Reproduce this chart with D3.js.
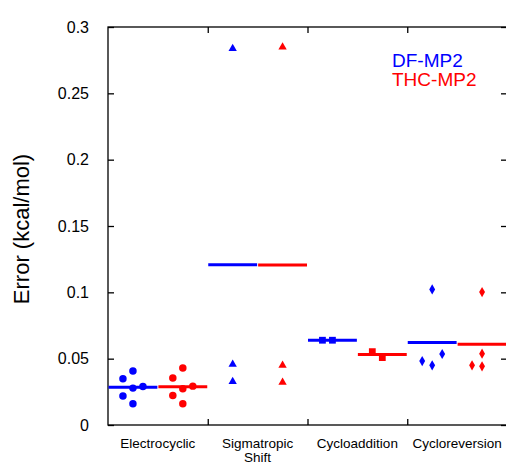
<!DOCTYPE html>
<html>
<head>
<meta charset="utf-8">
<script src="https://cdn.jsdelivr.net/npm/d3@7"></script>
<style>
  body { margin: 0; background: #fff; }
  svg text { font-family: "Liberation Sans", Arial, Helvetica, sans-serif; }
</style>
</head>
<body>
<div id="chart"></div>
<script>
var svgWidth = 506;
var svgHeight = 464;

// categories and per-category point values (kcal/mol)
var categories = [["Electrocyclic"], ["Sigmatropic", "Shift"], ["Cycloaddition"], ["Cycloreversion"]];
var markers = ["circle", "triangle", "square", "diamond"];
var dfValues = [
    [0.0349, 0.0407, 0.0278, 0.0291, 0.0218, 0.0160],
    [0.2838, 0.0457, 0.0327],
    [0.0639, 0.0639],
    [0.1022, 0.0482, 0.0450, 0.0535]
];
var thcValues = [
    [0.0429, 0.0354, 0.0274, 0.0293, 0.0223, 0.0160],
    [0.2848, 0.0450, 0.0321],
    [0.0553, 0.0508],
    [0.1002, 0.0538, 0.0450, 0.0442]
];
var yTicks = [0, 0.05, 0.1, 0.15, 0.2, 0.25, 0.3];
var seriesNames = ["DF-MP2", "THC-MP2"];
var seriesColors = ["#0000ff", "#ff0000"];

var margin = { top: 27, left: 108, bottom: 39, right: -1 };
var chartWidth = svgWidth - margin.left - margin.right;
var chartHeight = svgHeight - margin.top - margin.bottom;

var svg = d3.select("#chart")
    .append("svg")
    .attr("width", svgWidth)
    .attr("height", svgHeight);

var chartGroup = svg.append("g")
    .attr("transform", `translate(${margin.left},${margin.top})`);

var xScale = d3.scaleLinear().domain([0, categories.length]).range([0, chartWidth]);
var yScale = d3.scaleLinear().domain([0, 0.3]).range([chartHeight, 0]);

// frame + ticks (inward on all sides)
chartGroup.append("rect")
    .attr("width", chartWidth)
    .attr("height", chartHeight)
    .attr("fill", "none")
    .attr("stroke", "#000")
    .attr("stroke-width", 1.3);

var leftAxis = chartGroup.append("g")
    .call(d3.axisLeft(yScale).tickValues(yTicks).tickSize(-6).tickPadding(19).tickFormat(d3.format("~g")));
chartGroup.append("g")
    .attr("transform", `translate(${chartWidth},0)`)
    .call(d3.axisRight(yScale).tickValues(yTicks).tickSize(-6).tickFormat(""));
chartGroup.append("g")
    .call(d3.axisTop(xScale).tickValues([1, 2, 3]).tickSize(-6).tickFormat(""));
chartGroup.append("g")
    .attr("transform", `translate(0,${chartHeight})`)
    .call(d3.axisBottom(xScale).tickValues([1, 2, 3]).tickSize(-6).tickFormat(""));

chartGroup.selectAll(".domain").remove();
chartGroup.selectAll(".tick line").attr("stroke", "#000").attr("stroke-width", 1.3);
leftAxis.selectAll("text").style("font-size", "16px").attr("fill", "#000");

// category labels
var catLabels = chartGroup.selectAll("text.cat")
    .data(categories)
    .enter()
    .append("text")
    .classed("cat", true)
    .attr("x", (d, i) => xScale(i + 0.5))
    .attr("y", chartHeight + 23)
    .attr("text-anchor", "middle")
    .style("font-size", "13.5px");
catLabels.selectAll("tspan")
    .data(d => d)
    .enter()
    .append("tspan")
    .attr("x", function () { return d3.select(this.parentNode).attr("x"); })
    .attr("dy", (d, i) => i === 0 ? 0 : 13.5)
    .text(d => d);

// y label
svg.append("text")
    .attr("transform", "rotate(-90)")
    .attr("x", -229)
    .attr("y", 21)
    .attr("text-anchor", "middle")
    .attr("dominant-baseline", "central")
    .style("font-size", "22px")
    .text("Error (kcal/mol)");

// simple beeswarm: place ascending, avoid overlap within same column
function spread(values) {
    var order = values.map((v, i) => i).sort((a, b) => values[a] - values[b]);
    var cols = new Array(values.length);
    var placed = [];
    order.forEach(function (i) {
        var py = yScale(values[i]);
        var tries = [0, -1, 1, -2, 2];
        for (var k = 0; k < tries.length; k++) {
            var c = tries[k];
            var hit = placed.some(p => p.c === c && Math.abs(p.y - py) < 12);
            if (!hit) { cols[i] = c; placed.push({ c: c, y: py }); break; }
        }
    });
    return cols;
}

var symbols = {
    circle: d3.symbol().type(d3.symbolCircle).size(44),
    triangle: d3.symbol().type(d3.symbolTriangle).size(30),
    square: d3.symbol().type(d3.symbolSquare).size(46),
    diamond: d3.symbol().type(d3.symbolDiamond).size(30)
};

var halfLine = (xScale(0.25) - xScale(0)) * 0.98;

[dfValues, thcValues].forEach(function (series, s) {
    series.forEach(function (vals, i) {
        var cx = xScale(i + 0.25 + 0.5 * s);
        var cols = spread(vals);
        var mean = d3.mean(vals);

        chartGroup.append("line")
            .attr("x1", cx - halfLine)
            .attr("x2", cx + halfLine)
            .attr("y1", yScale(mean))
            .attr("y2", yScale(mean))
            .attr("stroke", seriesColors[s])
            .attr("stroke-width", 3);

        chartGroup.selectAll(null)
            .data(vals)
            .enter()
            .append("path")
            .attr("d", symbols[markers[i]])
            .attr("transform", (d, j) => `translate(${cx + cols[j] * 10},${yScale(d)})`)
            .attr("fill", seriesColors[s]);
    });
});

// legend
svg.selectAll("text.legend")
    .data(seriesNames)
    .enter()
    .append("text")
    .classed("legend", true)
    .attr("x", 392)
    .attr("y", (d, i) => 67 + i * 19)
    .attr("fill", (d, i) => seriesColors[i])
    .style("font-size", "19px")
    .text(d => d);
</script>
</body>
</html>
